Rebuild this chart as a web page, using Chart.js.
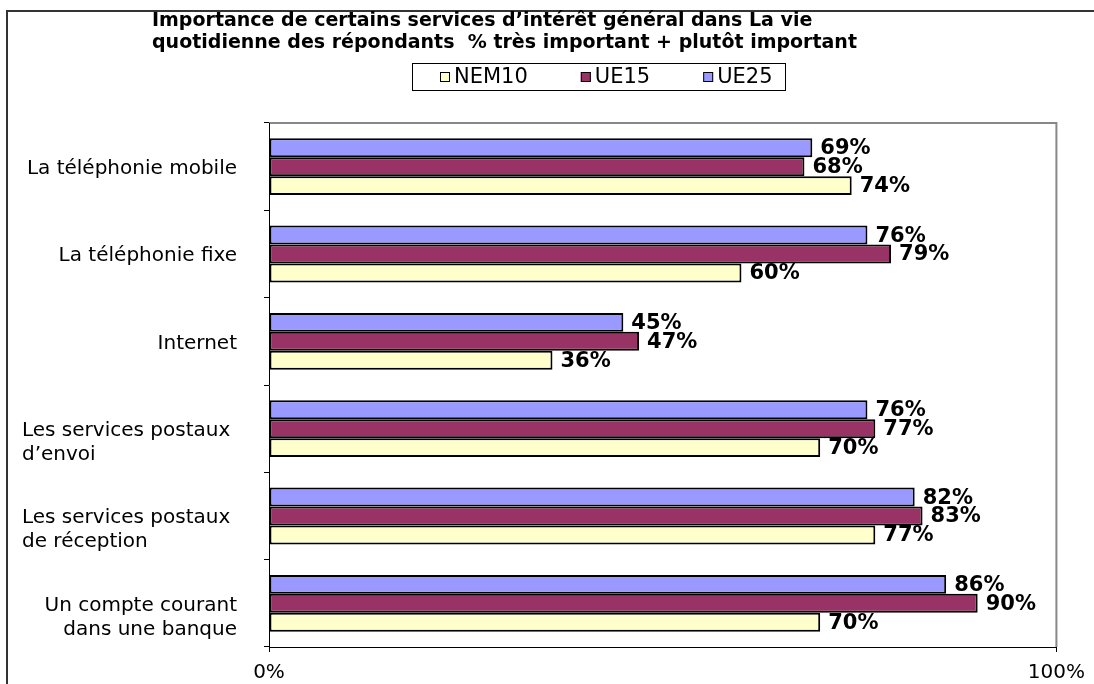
<!DOCTYPE html>
<html>
<head>
<meta charset="utf-8">
<script src="https://cdn.jsdelivr.net/npm/chart.js@4.4.1/dist/chart.umd.min.js"></script>
<style>
html, body { margin: 0; padding: 0; background: #fff; }
#wrap { width: 1094px; height: 684px; }
</style>
</head>
<body>
<div id="wrap"><canvas id="chart" width="1094" height="684"></canvas></div>
<script>
const categories = [
    ['La téléphonie mobile'],
    ['La téléphonie fixe'],
    ['Internet'],
    ['Les services postaux', 'd’envoi'],
    ['Les services postaux', 'de réception'],
    ['Un compte courant', 'dans une banque']
];
const ue25 = [69, 76, 45, 76, 82, 86];
const ue15 = [68, 79, 47, 77, 83, 90];
const nem10 = [74, 60, 36, 70, 77, 70];
const xTicks = [0, 100];
const titleLines = [
    'Importance de certains services d’intérêt général dans La vie',
    'quotidienne des répondants  % très important + plutôt important'
];

const FONT = '"DejaVu Sans", Verdana, sans-serif';
// wrapped postal labels are left-aligned in the original, the rest right-aligned
const labelAlign = ['right', 'right', 'right', 'left', 'left', 'right'];

const decorPlugin = {
    id: 'decor',
    beforeDraw(chart) {
        const ctx = chart.ctx;
        ctx.save();
        ctx.fillStyle = '#fff';
        ctx.fillRect(0, 0, chart.width, chart.height);
        // outer frame
        ctx.strokeStyle = '#333';
        ctx.lineWidth = 2;
        ctx.beginPath();
        ctx.moveTo(7, chart.height);
        ctx.lineTo(7, 11);
        ctx.lineTo(chart.width, 11);
        ctx.stroke();
        // plot area border (top + right, grey)
        const a = chart.chartArea;
        ctx.strokeStyle = '#888';
        ctx.beginPath();
        ctx.moveTo(a.left, a.top);
        ctx.lineTo(a.right, a.top);
        ctx.lineTo(a.right, a.bottom);
        ctx.stroke();
        ctx.restore();
    },
    afterDatasetsDraw(chart) {
        const ctx = chart.ctx;
        ctx.save();
        // value labels
        ctx.font = 'bold 21px ' + FONT;
        ctx.fillStyle = '#000';
        ctx.textAlign = 'left';
        ctx.textBaseline = 'middle';
        chart.data.datasets.forEach((ds, di) => {
            chart.getDatasetMeta(di).data.forEach((el, i) => {
                ctx.fillText(ds.data[i] + '%', el.x + 8, el.y + 1);
            });
        });
        // category labels
        const yScale = chart.scales.y;
        ctx.font = '20px ' + FONT;
        categories.forEach((lines, i) => {
            const y = yScale.getPixelForValue(i);
            ctx.textAlign = labelAlign[i];
            const x = labelAlign[i] === 'left' ? 22 : 237;
            lines.forEach((line, k) => {
                ctx.fillText(line, x, y + 2 + k * 24);
            });
        });
        ctx.restore();
    },
    afterDraw(chart) {
        const ctx = chart.ctx;
        ctx.save();
        // title
        ctx.font = 'bold 19px ' + FONT;
        ctx.fillStyle = '#000';
        ctx.textAlign = 'left';
        ctx.textBaseline = 'middle';
        titleLines.forEach((line, k) => ctx.fillText(line, 152, 21 + k * 22));
        // legend box
        ctx.strokeStyle = '#000';
        ctx.lineWidth = 1;
        ctx.strokeRect(412.5, 63.5, 373, 27);
        ctx.font = '21px ' + FONT;
        let x = 440;
        const ly = 77;
        const items = chart.data.datasets.slice().reverse();
        items.forEach(ds => {
            ctx.fillStyle = ds.backgroundColor;
            ctx.fillRect(x, ly - 5, 10, 10);
            ctx.strokeRect(x + 0.5, ly - 4.5, 9, 9);
            ctx.fillStyle = '#000';
            ctx.fillText(ds.label, x + 14, ly + 1);
            x += 14 + ctx.measureText(ds.label).width + 53;
        });
        ctx.restore();
    }
};

const barStyle = {
    borderColor: '#000',
    borderWidth: 2,
    borderSkipped: false,
    barPercentage: 1,
    categoryPercentage: 0.65
};

new Chart(document.getElementById('chart'), {
    type: 'bar',
    data: {
        labels: categories.map(l => l.join(' ')),
        datasets: [
            Object.assign({label: 'UE25', data: ue25, backgroundColor: '#9999FF'}, barStyle),
            Object.assign({label: 'UE15', data: ue15, backgroundColor: '#993366'}, barStyle),
            Object.assign({label: 'NEM10', data: nem10, backgroundColor: '#FFFFCC'}, barStyle)
        ]
    },
    options: {
        indexAxis: 'y',
        responsive: false,
        animation: false,
        devicePixelRatio: 1,
        layout: {padding: {left: 0, right: 33, top: 123, bottom: 0}},
        plugins: {
            legend: {display: false},
            title: {display: false},
            tooltip: {enabled: false}
        },
        scales: {
            x: {
                type: 'linear',
                min: 0,
                max: 100,
                afterBuildTicks: s => { s.ticks = xTicks.map(v => ({value: v})); },
                afterFit: s => { s.height = 37; },
                ticks: {
                    callback: v => v + '%',
                    color: '#000',
                    font: {family: FONT, size: 20},
                    padding: 9,
                    maxRotation: 0
                },
                grid: {drawOnChartArea: false, tickLength: 5, color: '#000'},
                border: {color: '#000', width: 1}
            },
            y: {
                type: 'category',
                afterFit: s => { s.width = 269; },
                ticks: {display: false},
                grid: {drawOnChartArea: false, offset: true, tickLength: 5, color: '#000'},
                border: {color: '#000', width: 1}
            }
        }
    },
    plugins: [decorPlugin]
});
</script>
</body>
</html>
